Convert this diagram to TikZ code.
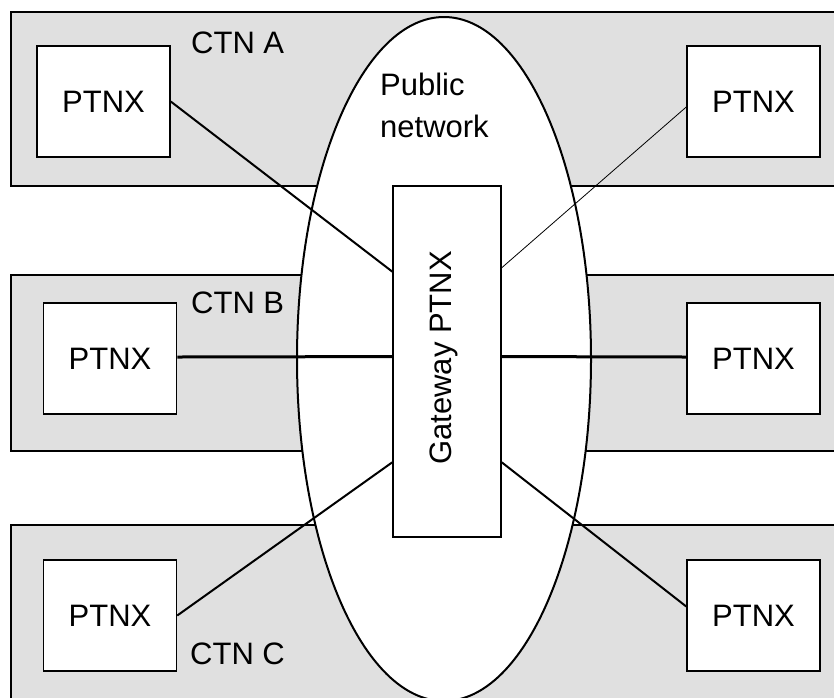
\documentclass[tikz,border=0pt]{standalone}
\usepackage{fontspec}
\setmainfont{Liberation Sans}
\usetikzlibrary{calc,shapes.geometric}
\definecolor{bandgray}{RGB}{224,224,224}
\begin{document}
\begin{tikzpicture}[x=1pt,y=-1pt,
  band/.style={fill=bandgray,draw=black,line width=1.5pt},
  ptnx/.style={draw=black,fill=white,line width=1.5pt,minimum width=133pt,minimum height=111pt,inner sep=0pt,font=\fontsize{31}{37}\selectfont},
  lbl/.style={inner sep=0pt,font=\fontsize{31}{37}\selectfont},
  link/.style={line width=2pt},
  thicklink/.style={line width=3pt},
  thinlink/.style={line width=0.8pt}]
\useasboundingbox (0,0) rectangle (834,697);
\clip (0,0) rectangle (834,697);
% bands
\path[band] (11,12) rectangle (850,186);
\path[band] (11,275) rectangle (850,451);
\path[band] (11,525) rectangle (850,720);
% public network ellipse
\node[draw=black,fill=white,line width=2pt,ellipse,inner sep=0pt,minimum width=294pt,minimum height=684pt] (net) at (444,359) {};
% labels
\node[lbl,anchor=base west] (ctna) at (191,53) {CTN A};
\node[lbl,anchor=base west] (ctnb) at (191,313) {CTN B};
\node[lbl,anchor=base west] (ctnc) at (190,664) {CTN C};
\node[lbl,anchor=base west,align=left,font=\fontsize{31}{42}\selectfont] (pub) at (380,137) {Public\\network};
% gateway
\node[draw=black,fill=white,line width=1.5pt,minimum width=108pt,minimum height=351pt,inner sep=0pt] (gw) at (447,361.5) {};
\node[lbl,rotate=90] (gwt) at (444,358) {Gateway PTNX};
% PTNX boxes
\node[ptnx] (pa) at (103.5,101.5) {PTNX};
\node[ptnx] (pA) at (753.5,101.5) {PTNX};
\node[ptnx] (pb) at (110,358.5) {PTNX};
\node[ptnx] (pB) at (753.5,358.5) {PTNX};
\node[ptnx] (pc) at (110,615.5) {PTNX};
\node[ptnx] (pC) at (753.5,615.5) {PTNX};
% connectors
\draw[link] (pa.east) -- ($(gw.north west)!0.245!(gw.south west)$);
\draw[thinlink] ($(pA.west)+(0,5.5)$) -- ($(gw.north east)!0.234!(gw.south east)$);
\draw[thicklink] ($(pb.east)+(0,-1.5)$) -- ($(gw.north west)!0.486!(gw.south west)$);
\draw[thicklink] ($(gw.north east)!0.486!(gw.south east)$) -- ($(pB.west)+(0,-1.5)$);
\draw[link] (pc.east) -- ($(gw.north west)!0.786!(gw.south west)$);
\draw[link] ($(pC.west)+(0,-9)$) -- ($(gw.north east)!0.786!(gw.south east)$);
\end{tikzpicture}
\end{document}
